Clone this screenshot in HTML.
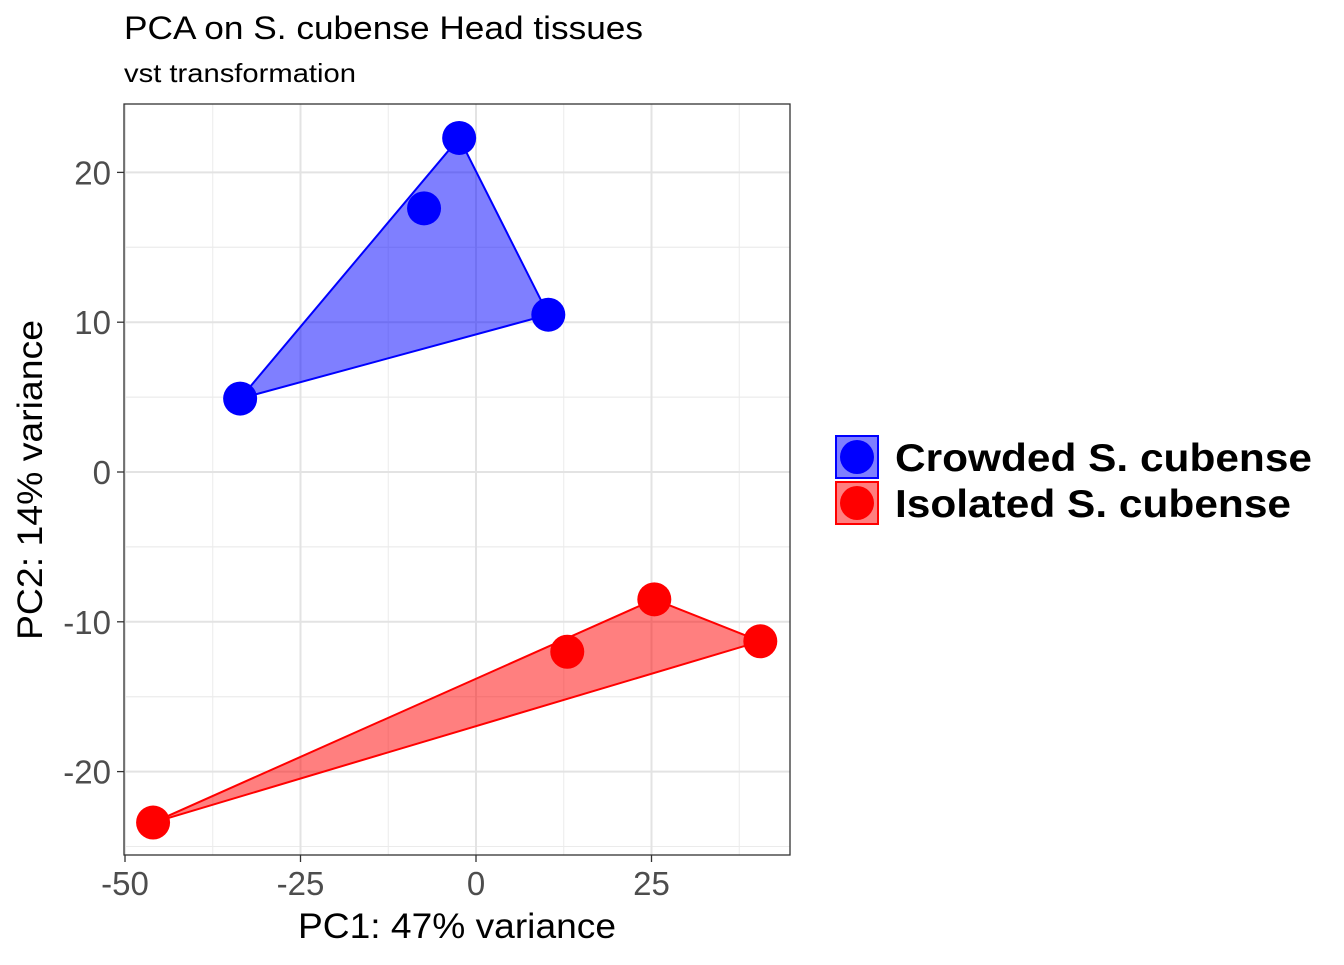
<!DOCTYPE html>
<html><head><meta charset="utf-8"><style>
body{margin:0;background:#fff;}
svg text{font-family:"Liberation Sans",Arial,sans-serif;}
</style></head><body>
<svg id="chart" width="1344" height="960" viewBox="0 0 1344 960" xmlns="http://www.w3.org/2000/svg">
<rect width="1344" height="960" fill="#fff"/>
<text x="124" y="39" font-size="32" fill="#000" textLength="519" lengthAdjust="spacingAndGlyphs">PCA on S. cubense Head tissues</text>
<text x="124" y="82" font-size="26" fill="#000" textLength="232" lengthAdjust="spacingAndGlyphs">vst transformation</text>
<g id="grid"></g>
<g id="series"></g>
<rect x="124" y="104" width="666" height="751" fill="none" stroke="#333" stroke-width="1.3"/>
<g id="axes"></g>
<text x="457" y="938" font-size="35" text-anchor="middle" fill="#000" textLength="318" lengthAdjust="spacingAndGlyphs">PC1: 47% variance</text>
<text transform="translate(42,480) rotate(-90)" font-size="35" text-anchor="middle" fill="#000" textLength="320" lengthAdjust="spacingAndGlyphs">PC2: 14% variance</text>
<g>
<g>
<rect x="836" y="436" width="42" height="42" fill="rgba(0,0,255,0.5)" stroke="#0000ff" stroke-width="2"/>
<circle cx="857" cy="457" r="17" fill="#0000ff"/>
<text x="895" y="471" font-size="39" font-weight="bold" fill="#000" textLength="417" lengthAdjust="spacingAndGlyphs">Crowded S. cubense</text>
</g>
<g>
<rect x="836" y="482" width="42" height="42" fill="rgba(255,0,0,0.5)" stroke="#ff0000" stroke-width="2"/>
<circle cx="857" cy="503" r="17" fill="#ff0000"/>
<text x="895" y="517" font-size="39" font-weight="bold" fill="#000" textLength="396" lengthAdjust="spacingAndGlyphs">Isolated S. cubense</text>
</g>
</g>
</svg>
<script>
const xTicks=[-50,-25,0,25];
const yTicks=[-20,-10,0,10,20];
const crowdedPC1=[-2.4,-7.4,10.3,-33.6];
const crowdedPC2=[22.3,17.6,10.5,4.9];
const isolatedPC1=[25.4,13.0,40.5,-46.0];
const isolatedPC2=[-8.5,-12.0,-11.3,-23.4];

const NS="http://www.w3.org/2000/svg";
const L=124,R=790,T=104,B=855;
const sx=v=>476+v*7.02;
const sy=v=>472-v*14.98;
function mk(tag,attrs,parent){const e=document.createElementNS(NS,tag);for(const k in attrs)e.setAttribute(k,attrs[k]);parent.appendChild(e);return e;}
const grid=document.getElementById('grid'),axes=document.getElementById('axes'),series=document.getElementById('series');
mk('rect',{x:L,y:T,width:R-L,height:B-T,fill:'#fff'},grid);
for(let i=0;i<xTicks.length;i++){const m=xTicks[i]+12.5;const l=mk('line',{x1:sx(m),x2:sx(m),y1:T,y2:B,stroke:'#ebebeb','stroke-width':1},grid);

}
for(let i=0;i<yTicks.length;i++){for(const m of [yTicks[i]-5,yTicks[i]+5]){const py=sy(m);if(py<T||py>B)continue;const l=mk('line',{x1:L,x2:R,y1:py,y2:py,stroke:'#ebebeb','stroke-width':1},grid);

}}
for(const t of xTicks){const px=sx(t);const l=mk('line',{x1:px,x2:px,y1:T,y2:B,stroke:'#e3e3e3','stroke-width':2},grid);


const tk=mk('line',{x1:px,x2:px,y1:B,y2:B+7,stroke:'#333','stroke-width':1.3},axes);


const tx=mk('text',{x:px,y:B+40,'font-size':33,'text-anchor':'middle',fill:'#4d4d4d'},axes);tx.textContent=t;

}
for(const t of yTicks){const py=sy(t);const l=mk('line',{x1:L,x2:R,y1:py,y2:py,stroke:'#e3e3e3','stroke-width':2},grid);


const tk=mk('line',{x1:L-7,x2:L,y1:py,y2:py,stroke:'#333','stroke-width':1.3},axes);


const tx=mk('text',{x:L-13,y:py+12,'font-size':33,'text-anchor':'end',fill:'#4d4d4d'},axes);tx.textContent=t;

}
function hull(xs,ys){let p=xs.map((x,i)=>[x,ys[i]]).sort((a,b)=>a[0]-b[0]||a[1]-b[1]);
const cr=(o,a,b)=>(a[0]-o[0])*(b[1]-o[1])-(a[1]-o[1])*(b[0]-o[0]);
const lo=[],up=[];for(const q of p){while(lo.length>=2&&cr(lo[lo.length-2],lo[lo.length-1],q)<=0)lo.pop();lo.push(q);}
for(const q of p.slice().reverse()){while(up.length>=2&&cr(up[up.length-2],up[up.length-1],q)<=0)up.pop();up.push(q);}
return lo.slice(0,-1).concat(up.slice(0,-1));}
function draw(xs,ys,col,fill,name){
const h=hull(xs,ys);
const pg=mk('polygon',{points:h.map(q=>sx(q[0])+','+sy(q[1])).join(' '),fill:fill,stroke:col,'stroke-width':2},series);


for(let i=0;i<xs.length;i++){const c=mk('circle',{cx:sx(xs[i]),cy:sy(ys[i]),r:17,fill:col},series);

}}
draw(crowdedPC1,crowdedPC2,'#0000ff','rgba(0,0,255,0.5)','crowded');
draw(isolatedPC1,isolatedPC2,'#ff0000','rgba(255,0,0,0.5)','isolated');
</script>
</body></html>
